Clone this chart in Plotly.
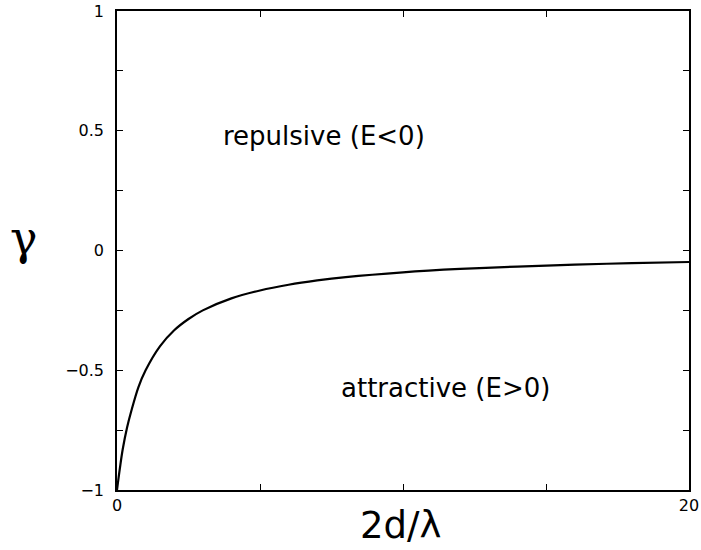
import plotly.graph_objects as go

# values
x_vals = [0, 0.1, 0.2, 0.35, 0.5, 0.75, 1.0, 1.5, 2.0, 2.5, 3.0, 4.0, 5.0, 6.0, 7.0, 8.0, 10.0, 12.0, 14.0, 16.0, 18.0, 20.0]
gamma_vals = [-1.0, -0.91, -0.83, -0.74, -0.67, -0.57, -0.50, -0.40, -0.333, -0.286, -0.25, -0.20, -0.167,
              -0.143, -0.125, -0.111, -0.091, -0.077, -0.067, -0.059, -0.053, -0.048]

x_tickvals = [0, 5, 10, 15, 20]
x_ticktext = ["0", "", "", "", "20"]
y_tickvals = [-1, -0.75, -0.5, -0.25, 0, 0.25, 0.5, 0.75, 1]
y_ticktext = ["\u22121", "", "\u22120.5", "", "0", "", "0.5", "", "1"]

FONT = "DejaVu Sans, Liberation Sans, Arial, sans-serif"

fig = go.Figure()
fig.add_trace(go.Scatter(x=x_vals, y=gamma_vals, mode="lines",
                         line=dict(color="black", width=2.2, shape="spline"),
                         showlegend=False, hoverinfo="skip"))

axis_common = dict(showgrid=False, zeroline=False, showline=True, linecolor="black", linewidth=1.5,
                   mirror="ticks", ticks="inside", ticklen=6, tickwidth=1, tickcolor="black",
                   tickmode="array", automargin=False, ticklabeloverflow="allow",
                   tickfont=dict(family=FONT, size=16, color="black"))

fig.update_layout(
    width=701, height=550,
    margin=dict(l=117, r=12, t=11, b=60),
    paper_bgcolor="white", plot_bgcolor="white",
    xaxis=dict(range=[0, 20], tickvals=x_tickvals, ticktext=x_ticktext, **axis_common),
    yaxis=dict(range=[-1, 1], tickvals=y_tickvals, ticktext=y_ticktext, ticklabelstandoff=8, **axis_common),
    annotations=[
        dict(x=7.24, y=0.48, xref="x", yref="y", text="repulsive (E&lt;0)", showarrow=False,
             font=dict(family=FONT, size=26, color="black"), xanchor="center", yanchor="middle"),
        dict(x=11.47, y=-0.575, xref="x", yref="y", text="attractive (E&gt;0)", showarrow=False,
             font=dict(family=FONT, size=26, color="black"), xanchor="center", yanchor="middle"),
        dict(x=-0.162, y=0.527, xref="paper", yref="paper", text="\u03b3", showarrow=False,
             font=dict(family="DejaVu Serif, Liberation Serif, serif", size=46, color="black"),
             xanchor="center", yanchor="middle"),
        dict(x=0.495, y=-0.074, xref="paper", yref="paper", text="2d/\u03bb", showarrow=False,
             font=dict(family=FONT, size=37, color="black"), xanchor="center", yanchor="middle"),
    ],
)

fig.write_html("out.html", config={"displayModeBar": False},
               post_script="document.body.style.margin='0';document.body.style.overflow='hidden';")
